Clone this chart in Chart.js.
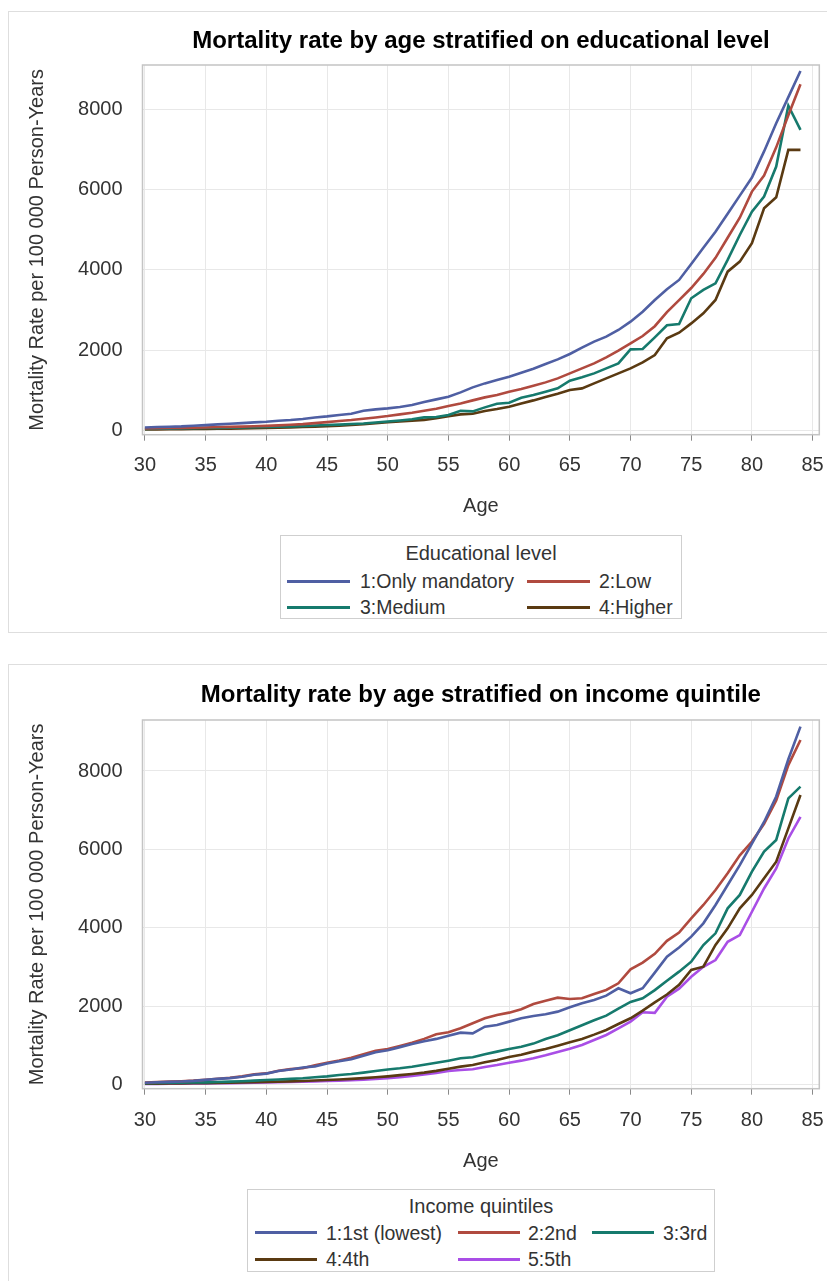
<!DOCTYPE html>
<html>
<head>
<meta charset="utf-8">
<script src="https://cdn.jsdelivr.net/npm/chart.js@4.4.1/dist/chart.umd.min.js"></script>
<style>
  body { margin: 0; width: 827px; height: 1281px; background: #fff; position: relative; overflow: hidden;
         font-family: "Liberation Sans", Arial, sans-serif; }
  .panel { position: absolute; border: 1.5px solid #dedede; box-sizing: border-box; }
  canvas { position: absolute; left: 0; }
  .legend { position: absolute; border: 1px solid #cfcfcf; box-sizing: border-box; background: #fff; color: #333; }
  .legend .ltitle { position: absolute; left: 0; right: 0; text-align: center; font-size: 20px; line-height: 20px; }
  .legend .swatch { position: absolute; height: 3px; }
  .legend .ltext { position: absolute; font-size: 19.5px; line-height: 20px; white-space: nowrap; }
</style>
</head>
<body>
<div class="panel" style="left:8px; top:11px; width:840px; height:622px;"></div>
<div class="panel" style="left:8px; top:664px; width:840px; height:700px;"></div>
<canvas id="eduChart" width="827" height="530" style="top:0px"></canvas>
<canvas id="incChart" width="827" height="540" style="top:640px"></canvas>
<div class="legend" id="eduLegend" style="left:280px; top:535px; width:402px; height:84px;"></div>
<div class="legend" id="incLegend" style="left:247px; top:1189px; width:468px; height:83px;"></div>
<script>
// ages 30..84
const ages = [30,31,32,33,34,35,36,37,38,39,40,41,42,43,44,45,46,47,48,49,50,51,52,53,54,55,56,57,58,59,
              60,61,62,63,64,65,66,67,68,69,70,71,72,73,74,75,76,77,78,79,80,81,82,83,84];
const ageTicks = [30,35,40,45,50,55,60,65,70,75,80,85];
const rateTicks = [0,2000,4000,6000,8000];

// Educational level
const eduLabels = ['1:Only mandatory', '2:Low', '3:Medium', '4:Higher'];
const eduMandatory = [81,90,98,106,123,139,156,173,189,206,222,247,264,289,330,355,389,422,497,530,
  555,589,638,712,779,845,953,1078,1177,1260,1343,1443,1542,1659,1775,1908,2066,2215,2340,2506,
  2713,2962,3253,3518,3751,4150,4550,4950,5400,5850,6300,6950,7650,8300,8950];
const eduLow = [56,60,65,69,73,81,90,94,102,110,119,131,148,164,189,214,239,264,297,330,
  364,405,447,496,546,612,679,754,829,887,970,1036,1119,1202,1302,1426,1551,1675,1825,1991,
  2173,2356,2600,2950,3250,3550,3900,4300,4800,5300,5950,6350,7050,7850,8620];
const eduMedium = [45,48,52,56,60,65,70,75,80,85,92,100,108,118,128,140,150,165,180,205,
  230,255,285,330,340,388,496,480,580,671,696,820,887,970,1053,1244,1327,1426,1551,1675,
  2024,2032,2323,2622,2655,3295,3502,3668,4250,4870,5450,5825,6572,8085,7486];
const eduHigher = [30,33,36,39,42,45,48,52,57,63,70,76,82,90,100,110,125,140,160,185,
  210,230,250,270,310,360,405,422,488,538,596,679,754,837,920,1011,1053,1177,1302,1426,
  1551,1701,1883,2298,2439,2670,2921,3253,3958,4207,4664,5536,5810,6989,6989];

// Income quintiles
const incLabels = ['1:1st (lowest)', '2:2nd', '3:3rd', '4:4th', '5:5th'];
const inc1st = [50,65,75,85,100,125,150,170,205,255,285,350,390,440,470,540,600,650,740,830,
  880,960,1040,1110,1170,1250,1329,1312,1482,1525,1610,1695,1754,1797,1865,1975,2077,2162,2273,2460,
  2332,2460,2860,3267,3500,3776,4116,4584,5094,5600,6150,6700,7350,8300,9130];
const inc2nd = [55,70,80,90,105,130,155,180,215,265,290,360,400,420,500,560,620,690,780,870,
  910,990,1070,1170,1290,1340,1440,1567,1695,1780,1839,1924,2060,2145,2222,2188,2205,2315,2417,2587,
  2944,3114,3340,3670,3880,4244,4584,4966,5391,5850,6200,6650,7250,8150,8790];
const inc3rd = [40,45,50,55,58,62,70,80,90,105,120,135,150,165,190,215,250,275,310,350,
  390,420,460,510,560,615,675,700,777,845,913,972,1049,1168,1261,1389,1517,1644,1763,1941,
  2111,2204,2414,2650,2884,3139,3564,3861,4499,4839,5433,5943,6241,7303,7600];
const inc4th = [25,28,31,35,38,42,47,52,58,64,72,80,88,98,108,120,135,150,170,190,
  215,245,275,310,355,411,462,505,573,632,709,768,845,913,998,1083,1168,1278,1397,1550,
  1695,1890,2100,2300,2550,2927,3012,3564,3989,4499,4839,5264,5688,6538,7388];
const inc5th = [20,22,25,28,31,34,38,42,47,52,58,64,70,77,85,95,105,118,130,150,
  170,195,225,260,300,351,377,394,454,505,564,615,675,751,836,921,1015,1142,1270,1440,
  1610,1850,1835,2247,2450,2754,3009,3179,3646,3816,4411,5005,5515,6280,6830];

const colors = ['#4f5fa3', '#b04a3f', '#167a6d', '#5a3a12', '#a94ee6'];
const FONT = '"Liberation Sans", Arial, sans-serif';

const frame = {
  id: 'frame',
  beforeDatasetsDraw(chart) {
    const {ctx, chartArea: a} = chart;
    ctx.save();
    ctx.strokeStyle = '#c4c4c4';
    ctx.lineWidth = 1.5;
    ctx.strokeRect(a.left, a.top, a.right - a.left, a.bottom - a.top);
    ctx.restore();
  }
};

function makeChart(id, title, labels, series, lay) {
  const datasets = series.map((vals, i) => ({
    label: labels[i],
    data: ages.map((a, j) => ({x: a, y: vals[j]})),
    borderColor: colors[i],
    borderWidth: 2.6,
    pointRadius: 0,
    tension: 0,
    fill: false
  }));
  return new Chart(document.getElementById(id), {
    type: 'line',
    data: {datasets},
    plugins: [frame],
    options: {
      responsive: false,
      animation: false,
      layout: {padding: {top: 0, left: 0, right: 7.7, bottom: 0}},
      plugins: {
        legend: {display: false},
        tooltip: {enabled: false},
        title: {
          display: true, text: title, fullSize: false, color: '#000',
          font: {family: FONT, size: 24, weight: 'bold'},
          padding: {top: lay.titleTop, bottom: lay.titleBottom}
        }
      },
      scales: {
        x: {
          type: 'linear', min: 29.8, max: 85.55,
          afterBuildTicks: s => { s.ticks = ageTicks.map(v => ({value: v})); },
          afterFit: s => { s.height = lay.xHeight; s.paddingLeft = 0; s.paddingRight = 0; },
          border: {display: false},
          grid: {color: '#e8e8e8', lineWidth: 1, drawTicks: true, tickLength: 6, tickColor: '#8a8a8a'},
          ticks: {font: {family: FONT, size: 20}, color: '#333', padding: lay.xTickPad, maxRotation: 0, autoSkip: false,
                  callback: v => String(v)},
          title: {display: true, text: 'Age', color: '#333', font: {family: FONT, size: 20},
                  padding: {top: 0, bottom: lay.ageBottom}}
        },
        y: {
          type: 'linear', min: -100, max: lay.yMax,
          afterBuildTicks: s => { s.ticks = rateTicks.map(v => ({value: v})); },
          afterFit: s => { s.width = 142.5; s.paddingTop = 0; s.paddingBottom = 0; },
          border: {display: false},
          grid: {color: '#e8e8e8', lineWidth: 1, drawTicks: false},
          ticks: {font: {family: FONT, size: 20}, color: '#333', padding: 20, callback: v => String(v)},
          title: {display: true, text: 'Mortality Rate per 100 000 Person-Years', color: '#333',
                  font: {family: FONT, size: 20}, padding: {top: 25, bottom: 0}}
        }
      }
    }
  });
}

function buildLegend(id, title, labels, slots, titleY) {
  const el = document.getElementById(id);
  const t = document.createElement('div');
  t.className = 'ltitle';
  t.style.top = (titleY - 10) + 'px';
  t.textContent = title;
  el.appendChild(t);
  labels.forEach((lab, i) => {
    const s = slots[i];
    const sw = document.createElement('div');
    sw.className = 'swatch';
    sw.style.left = s[0] + 'px';
    sw.style.width = s[1] + 'px';
    sw.style.top = (s[3] - 1.5) + 'px';
    sw.style.background = colors[i];
    el.appendChild(sw);
    const tx = document.createElement('div');
    tx.className = 'ltext';
    tx.style.left = s[2] + 'px';
    tx.style.top = (s[3] - 10) + 'px';
    tx.textContent = lab;
    el.appendChild(tx);
  });
}

makeChart('eduChart', 'Mortality rate by age stratified on educational level', eduLabels,
  [eduMandatory, eduLow, eduMedium, eduHigher],
  {titleTop: 27.1, titleBottom: 9.1, xHeight: 95.3, xTickPad: 12.3, ageBottom: 12, yMax: 9100});

makeChart('incChart', 'Mortality rate by age stratified on income quintile', incLabels,
  [inc1st, inc2nd, inc3rd, inc4th, inc5th],
  {titleTop: 40.6, titleBottom: 10.6, xHeight: 91.3, xTickPad: 13.3, ageBottom: 7, yMax: 9300});

// swatch left, swatch width, text left, row centre (relative to legend box)
buildLegend('eduLegend', 'Educational level', eduLabels,
  [[6, 63, 79, 45], [246, 63, 318, 45], [6, 63, 79, 71], [246, 63, 318, 71]], 17);
buildLegend('incLegend', 'Income quintiles', incLabels,
  [[7, 62, 78, 42.5], [210, 62, 280, 42.5], [344, 62, 415, 42.5], [7, 62, 78, 69], [210, 62, 280, 69]], 16);
</script>
</body>
</html>
